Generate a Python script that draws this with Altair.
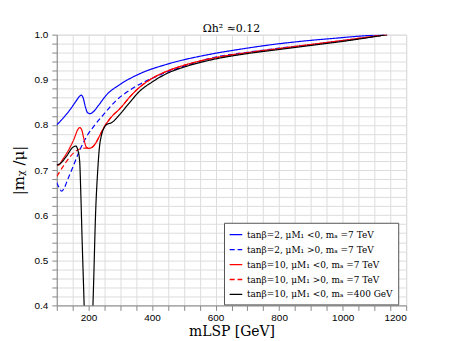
import altair as alt
import pandas as pd

series_names = [
    "tanβ=2, μM₁ <0, mₐ =7 TeV",
    "tanβ=2, μM₁ >0, mₐ =7 TeV",
    "tanβ=10, μM₁ <0, mₐ =7 TeV",
    "tanβ=10, μM₁ >0, mₐ =7 TeV",
    "tanβ=10, μM₁ <0, mₐ =400 GeV",
]
series_colors = ["#0000ff", "#0000ff", "#ff0000", "#ff0000", "#000000"]
series_dashes = [[1, 0], [5, 3], [1, 0], [5, 3], [1, 0]]

blue_solid_x = [100, 120, 140, 160, 170, 177, 183, 190, 197, 205, 215, 230, 256, 300, 360, 450, 579, 680, 768, 880, 976, 1060, 1130]
blue_solid_y = [0.800, 0.815, 0.832, 0.852, 0.862, 0.866, 0.860, 0.840, 0.827, 0.825, 0.829, 0.842, 0.866, 0.890, 0.913, 0.935, 0.956, 0.968, 0.977, 0.986, 0.992, 0.997, 1.000]

blue_dash_x = [100, 108, 115, 122, 135, 151, 170, 193, 220, 245, 287, 339, 412, 500, 579, 700, 800, 900, 1000, 1140]
blue_dash_y = [0.672, 0.660, 0.653, 0.658, 0.680, 0.707, 0.740, 0.773, 0.800, 0.821, 0.854, 0.881, 0.907, 0.930, 0.947, 0.961, 0.970, 0.978, 0.987, 1.000]

red_solid_x = [100, 105, 120, 140, 155, 165, 172, 178, 185, 192, 200, 210, 220, 235, 250, 270, 300, 330, 360, 400, 454, 500, 579, 650, 700, 800, 900, 1000, 1140]
red_solid_y = [0.713, 0.711, 0.725, 0.748, 0.770, 0.788, 0.794, 0.790, 0.770, 0.752, 0.748, 0.750, 0.757, 0.776, 0.796, 0.816, 0.837, 0.862, 0.883, 0.903, 0.921, 0.932, 0.946, 0.955, 0.960, 0.969, 0.978, 0.987, 1.000]

red_dash_x = [100, 120, 140, 160, 180, 200, 210, 220, 235, 250, 270, 300, 330, 360, 400, 454, 500, 579, 650, 700, 800, 900, 1000, 1140]
red_dash_y = [0.686, 0.708, 0.728, 0.742, 0.748, 0.749, 0.750, 0.757, 0.776, 0.796, 0.816, 0.837, 0.862, 0.883, 0.903, 0.921, 0.932, 0.946, 0.955, 0.960, 0.969, 0.978, 0.987, 1.000]

black_x = [100, 110, 130, 150, 160, 166, 172, 176, 180, 184, 187, 200, 213, 216, 222, 229, 235, 240, 250, 260, 270, 280, 297, 330, 360, 400, 450, 500, 579, 700, 800, 900, 1000, 1140]
black_y = [0.711, 0.714, 0.730, 0.750, 0.753, 0.745, 0.720, 0.640, 0.540, 0.450, 0.380, 0.000, 0.380, 0.450, 0.600, 0.700, 0.755, 0.775, 0.795, 0.802, 0.804, 0.809, 0.822, 0.850, 0.874, 0.895, 0.915, 0.928, 0.943, 0.958, 0.967, 0.976, 0.985, 1.000]

all_x = [blue_solid_x, blue_dash_x, red_solid_x, red_dash_x, black_x]
all_y = [blue_solid_y, blue_dash_y, red_solid_y, red_dash_y, black_y]

rows = []
for i, (xs, ys) in enumerate(zip(all_x, all_y)):
    for j, (xv, yv) in enumerate(zip(xs, ys)):
        rows.append({"series": series_names[i], "order": j, "x": xv, "y": yv})
df = pd.DataFrame(rows)

x_grid = list(range(100, 1201, 50))
y_grid = [round(0.4 + 0.02 * k, 2) for k in range(31)]

serif = "DejaVu Serif"
sans = "DejaVu Sans"

legend_cfg = dict(title=None, orient="none", legendX=168, legendY=189,
                  symbolType="stroke", symbolSize=160, symbolStrokeWidth=1.3,
                  labelFont=serif, labelFontSize=9, labelLimit=300,
                  strokeColor="#555555", fillColor="white", padding=5,
                  rowPadding=3, cornerRadius=0)

lines = alt.Chart(df).mark_line(strokeWidth=1.2, clip=True, interpolate="monotone").encode(
    x=alt.X("x:Q", scale=alt.Scale(domain=[100, 1200], nice=False),
            axis=alt.Axis(values=x_grid, title="mLSP [GeV]",
                          labelExpr="datum.value % 200 == 0 ? datum.label : ''",
                          titleFont=serif, titleFontSize=14, titleFontWeight="normal",
                          titlePadding=2, labelPadding=2, format="d")),
    y=alt.Y("y:Q", scale=alt.Scale(domain=[0.4, 1.0], nice=False, zero=False),
            axis=alt.Axis(values=y_grid, title="|mᵪ /μ|",
                          labelExpr="abs(datum.value*10 - round(datum.value*10)) < 0.001 ? format(datum.value, '.1f') : ''",
                          titleFont=serif, titleFontSize=15, titleFontWeight="normal",
                          titlePadding=8, labelPadding=4)),
    color=alt.Color("series:N", scale=alt.Scale(domain=series_names, range=series_colors),
                    legend=alt.Legend(**legend_cfg)),
    strokeDash=alt.StrokeDash("series:N", scale=alt.Scale(domain=series_names, range=series_dashes),
                              legend=alt.Legend(**legend_cfg)),
    detail="series:N",
    order="order:Q",
)

chart = lines.properties(
    width=351, height=272,
    title=alt.TitleParams("Ωh² ≈0.12", font=serif, fontSize=11, fontWeight="normal", offset=-4),
    autosize=alt.AutoSizeParams(type="none"),
    padding={"left": 49, "top": 26, "right": 40, "bottom": 35},
).configure_view(stroke="black", strokeWidth=1.2).configure_axis(
    grid=True, gridDash=[1, 3], gridColor="#777777", gridOpacity=0.9, gridWidth=1,
    ticks=False, domain=False, labelFont=sans, labelFontSize=10, labelColor="black",
    titleColor="black",
).configure(background="white")

chart.save("out.html", embed_options={"renderer": "svg", "actions": False})
